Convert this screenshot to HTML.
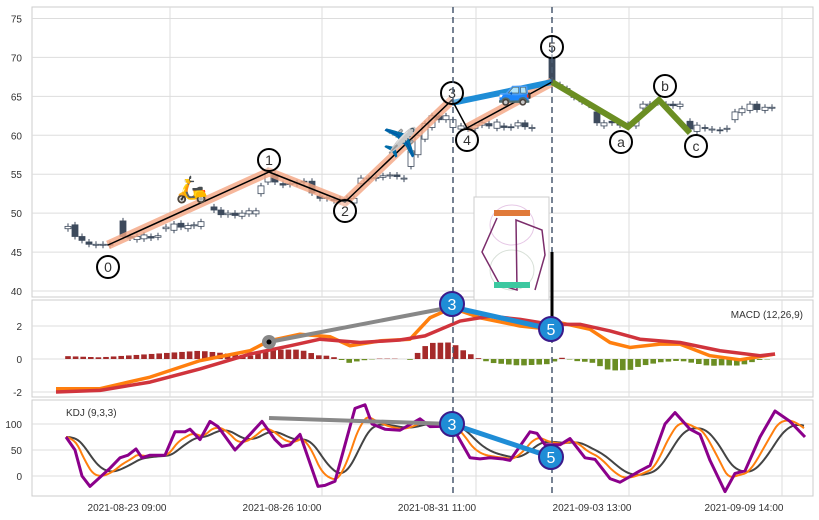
<!DOCTYPE html><html><head><meta charset="utf-8"><style>
html,body{margin:0;padding:0;background:#fff}
svg{display:block;font-family:"Liberation Sans",sans-serif}
</style></head><body>
<svg id="s" width="819" height="520" xmlns="http://www.w3.org/2000/svg"></svg>
<script>
const S=document.getElementById('s');let h='';
const X0=32,X1=813;
function P(x0,y0,x1,y1){h+=`<rect x="${x0}" y="${y0}" width="${x1-x0}" height="${y1-y0}" fill="#fff" stroke="#ccc"/>`;}
P(X0,7,X1,297);P(X0,300,X1,397);P(X0,400,X1,496);
const vg=[170,322,476,629,782];
const ym=v=>291-(v-40)*7.786, yM=v=>359-v*16.5, yK=v=>476-v*0.52;
function grid(){
 for(const x of vg){h+=`<line x1="${x}" y1="7" x2="${x}" y2="297" stroke="#ddd"/><line x1="${x}" y1="300" x2="${x}" y2="397" stroke="#ddd"/><line x1="${x}" y1="400" x2="${x}" y2="496" stroke="#ddd"/>`;}
 for(let v=40;v<=75;v+=5){let y=ym(v);h+=`<line x1="${X0}" y1="${y}" x2="${X1}" y2="${y}" stroke="#ddd"/><text x="22" y="${y+4}" font-size="10" fill="#333" text-anchor="end">${v}</text>`;}
 for(const v of [-2,0,2]){let y=yM(v);h+=`<line x1="${X0}" y1="${y}" x2="${X1}" y2="${y}" stroke="#ddd"/><text x="22" y="${y+4}" font-size="10" fill="#333" text-anchor="end">${v}</text>`;}
 for(const v of [0,50,100]){let y=yK(v);h+=`<line x1="${X0}" y1="${y}" x2="${X1}" y2="${y}" stroke="#ddd"/><text x="22" y="${y+4}" font-size="10" fill="#333" text-anchor="end">${v}</text>`;}
 const lab=[[127,'2021-08-23 09:00'],[282,'2021-08-26 10:00'],[437,'2021-08-31 11:00'],[592,'2021-09-03 13:00'],[744,'2021-09-09 14:00']];
 for(const [x,t] of lab)h+=`<text x="${x}" y="511" font-size="10" fill="#333" text-anchor="middle">${t}</text>`;
}
grid();
// candles
const C=[[68,48,48.3,0],[75,48.5,47,1],[82,47,46.5,1],[89,46.3,46,1],[96,46,46,0],[103,46,46,0],[110,46,45.9,1],[123,49,47,1],[130,47,46.8,1],[137,47,46.6,0],[144,46.7,47.2,0],[151,47,46.8,1],[158,46.9,47.1,0],[166,48,48.2,0],[174,47.8,48.6,0],[181,48.7,48.2,1],[188,48,48.4,0],[194,48.4,48.5,0],[201,48.3,48.9,0],[214,50.8,50.4,1],[221,50.4,49.8,1],[228,49.8,50,0],[235,50,49.7,1],[242,49.6,50,0],[249,49.9,50.3,0],[256,49.9,50.3,0],[261,52.5,53.5,0],[268,54,55.5,0],[275,55,54,1],[283,53.8,53.6,1],[290,53.7,53.8,0],[297,53.9,53.9,0],[304,54,54.1,1],[312,54.1,52.6,1],[320,52.2,51.9,1],[327,52,52,0],[334,51.8,51.6,1],[340,51.5,51.8,1],[347,51.5,51.9,0],[354,51.3,51.9,0],[361,53.8,54.5,0],[369,54.5,54.5,0],[376,54.6,54.6,0],[383,54.8,54.6,0],[390,54.8,54.9,0],[397,54.9,54.7,1],[404,54.5,54.5,0],[411,56,58,0],[418,57.5,60,0],[425,59.5,61.5,0],[432,61,62.5,0],[439,62.5,62,1],[446,62,62.5,0],[453,62,61,0],[461,60.8,61.2,0],[468,61,60.8,0],[475,60.9,61.3,0],[482,61.3,61.6,0],[489,61.5,61.2,1],[497,60.9,61.7,0],[504,61.2,61,1],[511,61,61.1,1],[518,61.2,61.6,0],[525,61.6,61.1,1],[532,61,61,0],[552,70,66.5,1],[560,66.5,66.2,1],[567,66,65.7,1],[574,65,64.9,1],[582,64.5,64.3,1],[589,64,63.9,1],[597,63,61.6,1],[604,61.2,61.6,0],[612,61.8,61.6,1],[620,61.5,61.3,1],[628,61.2,61.4,1],[636,61.2,61.8,0],[643,63.5,64,0],[650,64,63.8,0],[658,64.2,64.5,1],[666,64,64,0],[673,64,63.8,1],[680,63.7,64,0],[690,61.8,60.8,1],[697,60.5,61.3,0],[705,61,60.9,1],[712,60.8,60.8,0],[720,60.7,60.7,1],[727,60.8,60.9,0],[735,62,63,0],[742,62.9,63.4,0],[750,63.2,64,0],[757,64,63.3,1],[765,63.2,63.6,0],[772,63.5,63.6,0]];
for(const [x,o,c,f] of C){let t=ym(Math.max(o,c)),b=ym(Math.min(o,c));let hh=Math.max(b-t,1);
 h+=`<line x1="${x}" y1="${t-3}" x2="${x}" y2="${t+hh+3}" stroke="#3d4a5c" stroke-width="1"/>`;
 h+=`<rect x="${x-3}" y="${t}" width="6" height="${hh}" fill="${f?'#3d4a5c':'#fff'}" stroke="#3d4a5c" stroke-width="0.8"/>`;}
// waves
h+=`<polyline points="108,245 269,172 345,202 452,100" fill="none" stroke="#f4a582" stroke-opacity="0.8" stroke-width="9" stroke-linejoin="round"/>`;
h+=`<polyline points="467,128 552,82" fill="none" stroke="#f4a582" stroke-opacity="0.8" stroke-width="9"/>`;
h+=`<polyline points="452,103 552,82" fill="none" stroke="#1f8dd6" stroke-width="6"/>`;
h+=`<polyline points="108,245 269,172 345,202 452,100 467,128 552,82" fill="none" stroke="#000" stroke-width="1.5"/>`;
h+=`<polyline points="552,82 628,127 659,100 690,133" fill="none" stroke="#6b8e23" stroke-width="6" stroke-linejoin="miter"/>`;
h+=`<text x="192" y="198" font-size="26" text-anchor="middle">🛵</text><text x="400" y="152" font-size="28" text-anchor="middle">✈️</text><text x="515" y="100" font-size="28" text-anchor="middle">🚙</text>`;
for(const [x,y,t] of [[108,267,'0'],[269,160,'1'],[345,211,'2'],[452,93,'3'],[467,140,'4'],[552,47,'5'],[621,142,'a'],[665,86,'b'],[696,146,'c']])
 h+=`<circle cx="${x}" cy="${y}" r="11" fill="#fff" fill-opacity="0.3" stroke="#000" stroke-width="2"/><text x="${x}" y="${y+5}" font-size="14" fill="#333" text-anchor="middle">${t}</text>`;
// inset
h+=`<rect x="474" y="197" width="75" height="103" fill="#fff" stroke="#ccc"/><ellipse cx="512" cy="225" rx="22" ry="20" fill="none" stroke="#e6c8e6"/><ellipse cx="512" cy="270" rx="22" ry="20" fill="none" stroke="#d8e0d8"/><polyline points="497,218 482,252 500,285 517,290 516,220 542,230 545,255 535,290" fill="none" stroke="#7b2d6b" stroke-width="1.5"/><rect x="494" y="210" width="36" height="6" fill="#e07a3a"/><rect x="494" y="282" width="36" height="6" fill="#3cc8a0"/>`;
// MACD
function interp(pts,x){for(let i=0;i<pts.length-1;i++){if(x>=pts[i][0]&&x<=pts[i+1][0]){let t=(x-pts[i][0])/(pts[i+1][0]-pts[i][0]);return pts[i][1]+t*(pts[i+1][1]-pts[i][1]);}}return x<pts[0][0]?pts[0][1]:pts[pts.length-1][1];}
const dif=[[56,-1.8],[100,-1.8],[150,-1.1],[200,-0.1],[250,0.5],[269,1.1],[300,1.5],[330,1.35],[350,0.8],[380,1.1],[410,1.2],[430,2.5],[452,3.1],[480,2.5],[520,2.0],[551,1.8],[560,2.2],[590,1.8],[610,1.0],[630,0.7],[660,0.9],[680,0.9],[710,0.2],[740,-0.05],[775,0.3]];
const dea=[[56,-2.0],[100,-1.9],[150,-1.4],[200,-0.6],[250,0.3],[290,0.8],[320,1.2],[360,1.0],[400,1.15],[425,1.4],[460,2.3],[490,2.6],[520,2.4],[551,2.1],[580,2.1],[610,1.7],[640,1.2],[680,1.0],[720,0.5],[760,0.2],[775,0.3]];
for(let x=68;x<=775;x+=7.6){let v=interp(dif,x)-interp(dea,x);let y0=yM(0),y1=yM(v);h+=`<rect x="${x-2.8}" y="${Math.min(y0,y1)}" width="5.6" height="${Math.abs(y1-y0)}" fill="${v>=0?'#a52a2a':'#6b8e23'}"/>`;}
const pl=(pts,f)=>pts.map(p=>p[0]+','+f(p[1])).join(' ');
h+=`<polyline points="${pl(dif,yM)}" fill="none" stroke="#ff7f0e" stroke-width="3.5" stroke-linejoin="round"/>`;
h+=`<polyline points="${pl(dea,yM)}" fill="none" stroke="#d0343c" stroke-width="3.5" stroke-linejoin="round"/>`;
h+=`<text x="803" y="318" font-size="10" fill="#333" text-anchor="end">MACD (12,26,9)</text>`;
// KDJ
const J=[[66,75],[75,50],[82,0],[90,-20],[110,15],[120,35],[128,40],[136,52],[142,35],[150,40],[165,40],[175,85],[185,85],[190,90],[200,70],[210,105],[218,95],[235,50],[250,80],[262,105],[275,70],[282,57],[290,60],[300,80],[318,-20],[325,-18],[335,-10],[355,130],[365,137],[372,100],[385,90],[400,88],[420,110],[430,95],[452,96],[470,35],[480,33],[490,35],[502,33],[510,30],[530,85],[537,82],[545,60],[560,60],[570,72],[585,35],[595,32],[610,-5],[620,-12],[640,10],[650,20],[665,100],[675,122],[690,90],[700,80],[710,30],[725,-30],[735,5],[745,10],[760,75],[775,125],[790,105],[800,85],[805,75]];
let js=[];for(let x=66;x<=805;x+=2)js.push([x,interp(J,x)]);
function ema(a,n){let o=[],p=a[0][1];for(const q of a){p=p+(q[1]-p)/n;o.push([q[0],p]);}return o;}
const K=ema(js,6),D=ema(K,6);
h+=`<polyline points="${pl(D,yK)}" fill="none" stroke="#444" stroke-width="2"/>`;
h+=`<polyline points="${pl(K,yK)}" fill="none" stroke="#ff7f0e" stroke-width="2"/>`;
h+=`<polyline points="${pl(J,yK)}" fill="none" stroke="#8b008b" stroke-width="3" stroke-linejoin="round"/>`;
h+=`<text x="66" y="416" font-size="10" fill="#333">KDJ (9,3,3)</text>`;
// dashed verticals
for(const x of [453,552])h+=`<line x1="${x}" y1="7" x2="${x}" y2="496" stroke="#4a5a70" stroke-width="1.5" stroke-dasharray="6,4"/>`;
// arrow
h+=`<line x1="552" y1="252" x2="552" y2="322" stroke="#000" stroke-width="3"/><polygon points="546,320 558,320 552,332" fill="#000"/>`;
// annotations
h+=`<line x1="269" y1="342" x2="452" y2="307" stroke="#888" stroke-width="4"/><circle cx="269" cy="342" r="7" fill="#888"/><circle cx="269" cy="342" r="2.5" fill="#000"/>`;
h+=`<line x1="452" y1="307" x2="551" y2="329" stroke="#1f8dd6" stroke-width="5"/>`;
h+=`<line x1="269" y1="418" x2="452" y2="424" stroke="#888" stroke-width="4"/><line x1="452" y1="424" x2="551" y2="457" stroke="#1f8dd6" stroke-width="5"/>`;
for(const [x,y] of [[452,304,'3'],[551,329,'5'],[452,424,'3'],[551,457,'5']]){}
for(const [x,y,t] of [[452,304,'3'],[551,329,'5'],[452,424,'3'],[551,457,'5']])
 h+=`<circle cx="${x}" cy="${y}" r="12" fill="#1f8dd6" stroke="#3b1a8a" stroke-width="2"/><text x="${x}" y="${y+6}" font-size="16" fill="#fff" text-anchor="middle">${t}</text>`;
S.innerHTML=h;
</script>
</body></html>
